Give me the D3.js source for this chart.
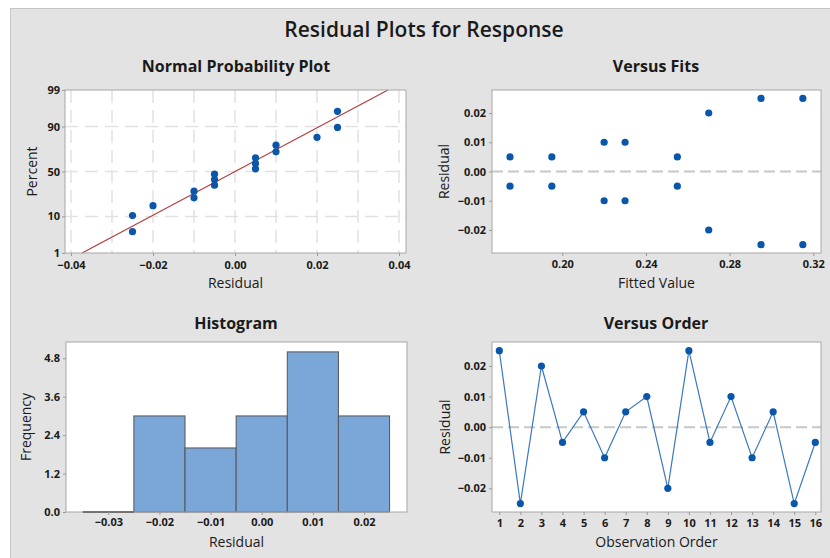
<!DOCTYPE html>
<html><head><meta charset="utf-8">
<script src="https://cdn.jsdelivr.net/npm/d3@7"></script>
<style>
body{margin:0;background:#fff}
text{font-family:"Open Sans",sans-serif;fill:#1a1a1a}
</style>
</head><body><svg id="c" width="830" height="558"></svg>
<script>
// ---------- data ----------
const observationOrder = [1,2,3,4,5,6,7,8,9,10,11,12,13,14,15,16];
const residualsByOrder = [0.025,-0.025,0.02,-0.005,0.005,-0.01,0.005,0.01,-0.02,0.025,-0.005,0.01,-0.01,0.005,-0.025,-0.005];
const sortedResiduals = [-0.025,-0.025,-0.02,-0.01,-0.01,-0.005,-0.005,-0.005,0.005,0.005,0.005,0.01,0.01,0.02,0.025,0.025];
const normalPercent = [4.3,10.4,16.5,22.6,28.7,34.8,40.9,47.0,53.0,59.1,65.2,71.3,77.4,83.5,89.6,95.7];
const fitLineResidual = [-0.0373, 0.0373];
const fitLinePercent = [1, 99];
const fittedValues = [0.175,0.175,0.195,0.195,0.22,0.22,0.23,0.23,0.255,0.255,0.27,0.27,0.295,0.295,0.315,0.315];
const fitsResiduals = [0.005,-0.005,0.005,-0.005,0.01,-0.01,0.01,-0.01,0.005,-0.005,0.02,-0.02,0.025,-0.025,0.025,-0.025];
const histBinCenters = [-0.03,-0.02,-0.01,0.00,0.01,0.02];
const histFrequency = [0,3,2,3,5,3];
const normXTicks = [-0.04,-0.02,0.00,0.02,0.04];
const normXGrid = [-0.04,-0.03,-0.02,-0.01,0,0.01,0.02,0.03,0.04];
const normYTicks = [1,10,50,90,99];
const fitsXTicks = [0.20,0.24,0.28,0.32];
const resYTicks = [-0.02,-0.01,0.00,0.01,0.02];
const histXTicks = [-0.03,-0.02,-0.01,0.00,0.01,0.02];
const histYTicks = [0.0,1.2,2.4,3.6,4.8];

// ---------- helpers ----------
function invNorm(p){
  const a=[-3.969683028665376e+01,2.209460984245205e+02,-2.759285104469687e+02,1.383577518672690e+02,-3.066479806614716e+01,2.506628277459239e+00];
  const b=[-5.447609879822406e+01,1.615858368580409e+02,-1.556989798598866e+02,6.680131188771972e+01,-1.328068155288572e+01];
  const c=[-7.784894002430293e-03,-3.223964580411365e-01,-2.400758277161838e+00,-2.549732539343734e+00,4.374664141464968e+00,2.938163982698783e+00];
  const d=[7.784695709041462e-03,3.224671290700398e-01,2.445134137142996e+00,3.754408661907416e+00];
  const pl=0.02425;let q,r;
  if(p<pl){q=Math.sqrt(-2*Math.log(p));return (((((c[0]*q+c[1])*q+c[2])*q+c[3])*q+c[4])*q+c[5])/((((d[0]*q+d[1])*q+d[2])*q+d[3])*q+1);}
  if(p<=1-pl){q=p-0.5;r=q*q;return (((((a[0]*r+a[1])*r+a[2])*r+a[3])*r+a[4])*r+a[5])*q/(((((b[0]*r+b[1])*r+b[2])*r+b[3])*r+b[4])*r+1);}
  q=Math.sqrt(-2*Math.log(1-p));return -(((((c[0]*q+c[1])*q+c[2])*q+c[3])*q+c[4])*q+c[5])/((((d[0]*q+d[1])*q+d[2])*q+d[3])*q+1);
}
const svg = d3.select("#c");
const DOT = "#0a56a8";

svg.append("rect").attr("x",10.5).attr("y",8.5).attr("width",830).attr("height",560)
  .attr("fill","#e3e3e3").attr("stroke","#c6c6c6");

svg.append("text").attr("x",424).attr("y",37).attr("text-anchor","middle")
  .attr("font-size",21).attr("font-weight",600).text("Residual Plots for Response");

function styleAxis(g){
  g.select(".domain").remove();
  g.selectAll(".tick line").attr("stroke","#9a9a9a");
  g.selectAll(".tick text").attr("font-size",11).attr("font-weight",700)
    .attr("fill","#222").style("font-family",'"Open Sans",sans-serif');
}
function panel(o){
  const g = svg.append("g");
  g.append("rect").attr("x",o.x0).attr("y",o.y0).attr("width",o.x1-o.x0).attr("height",o.y1-o.y0).attr("fill","#fff");
  g.append("text").attr("x",o.tx).attr("y",o.ty).attr("text-anchor","middle")
    .attr("font-size",16).attr("font-weight",700).text(o.title);
  g.append("text").attr("x",(o.x0+o.x1)/2).attr("y",o.xly).attr("text-anchor","middle")
    .attr("font-size",14).attr("font-weight",500).text(o.xlab);
  g.append("text").attr("transform",`translate(${o.ylx},${(o.y0+o.y1)/2}) rotate(-90)`).attr("text-anchor","middle")
    .attr("font-size",14).attr("font-weight",500).text(o.ylab);
  return g;
}
function frame(g,o){
  g.append("rect").attr("x",o.x0).attr("y",o.y0).attr("width",o.x1-o.x0).attr("height",o.y1-o.y0)
    .attr("fill","none").attr("stroke","#a8a8a8").attr("stroke-width",1);
}

// ---------- Normal probability plot ----------
{
  const o={x0:65,x1:406,y0:90,y1:253,tx:236,ty:72,title:"Normal Probability Plot",xlab:"Residual",xly:288,ylab:"Percent",ylx:37};
  const g=panel(o);
  const x=d3.scaleLinear().domain([-0.04,0.04]).range([71,399]);
  const zy=d3.scaleLinear().domain([invNorm(0.01),invNorm(0.99)]).range([o.y1,o.y0]);
  const y=p=>zy(invNorm(p/100));
  g.selectAll(".vg").data(normXGrid).join("line").attr("x1",d=>x(d)).attr("x2",d=>x(d)).attr("y1",o.y0).attr("y2",o.y1)
    .attr("stroke","#e2e2e2").attr("stroke-width",1.5).attr("stroke-dasharray","13,7");
  g.selectAll(".hg").data(normYTicks.slice(1,-1)).join("line").attr("y1",d=>y(d)).attr("y2",d=>y(d)).attr("x1",o.x0).attr("x2",o.x1)
    .attr("stroke","#e2e2e2").attr("stroke-width",1.5).attr("stroke-dasharray","13,7");
  g.append("line").attr("x1",x(fitLineResidual[0])).attr("y1",y(fitLinePercent[0]))
    .attr("x2",x(fitLineResidual[1])).attr("y2",y(fitLinePercent[1])).attr("stroke","#b23a3c").attr("stroke-width",1.1);
  g.selectAll(".pt").data(sortedResiduals).join("circle").attr("cx",d=>x(d)).attr("cy",(d,i)=>y(normalPercent[i]))
    .attr("r",3.6).attr("fill",DOT);
  frame(g,o);
  const ax=g.append("g").attr("transform",`translate(0,${o.y1})`)
    .call(d3.axisBottom(x).tickValues(normXTicks).tickFormat(d3.format(".2f")).tickSize(3).tickSizeOuter(0).tickPadding(5));
  styleAxis(ax);
  const ay=g.append("g").attr("transform",`translate(${o.x0},0)`)
    .call(d3.axisLeft(zy).tickValues(normYTicks.map(p=>invNorm(p/100))).tickFormat((d,i)=>normYTicks[i]).tickSize(3).tickSizeOuter(0).tickPadding(2));
  styleAxis(ay);
}

// ---------- Versus Fits ----------
{
  const o={x0:492,x1:821,y0:90,y1:253,tx:656,ty:72,title:"Versus Fits",xlab:"Fitted Value",xly:288,ylab:"Residual",ylx:449};
  const g=panel(o);
  const x=d3.scaleLinear().domain([0.20,0.32]).range([562.3,813.3]);
  const y=d3.scaleLinear().domain([-0.02,0.02]).range([230,113]);
  g.append("line").attr("x1",o.x0).attr("x2",o.x1).attr("y1",y(0)).attr("y2",y(0))
    .attr("stroke","#c8c8c8").attr("stroke-width",2).attr("stroke-dasharray","11,5");
  g.selectAll(".pt").data(fittedValues).join("circle").attr("cx",d=>x(d)).attr("cy",(d,i)=>y(fitsResiduals[i]))
    .attr("r",3.6).attr("fill",DOT);
  frame(g,o);
  const ax=g.append("g").attr("transform",`translate(0,${o.y1})`)
    .call(d3.axisBottom(x).tickValues(fitsXTicks).tickFormat(d3.format(".2f")).tickSize(3).tickSizeOuter(0).tickPadding(4));
  styleAxis(ax);
  const ay=g.append("g").attr("transform",`translate(${o.x0},0)`)
    .call(d3.axisLeft(y).tickValues(resYTicks).tickFormat(d3.format(".2f")).tickSize(3).tickSizeOuter(0).tickPadding(3));
  styleAxis(ay);
}

// ---------- Histogram ----------
{
  const o={x0:66,x1:407,y0:342,y1:512,tx:236,ty:329,title:"Histogram",xlab:"Residual",xly:547,ylab:"Frequency",ylx:31};
  const g=panel(o);
  const x=d3.scaleLinear().domain([-0.03,0.02]).range([108.3,364]);
  const y=d3.scaleLinear().domain([0,4.8]).range([o.y1,358.3]);
  const w=x(0.01)-x(0);
  g.selectAll(".bar").data(histFrequency).join("rect")
    .attr("x",(d,i)=>x(histBinCenters[i])-w/2).attr("width",w)
    .attr("y",d=>y(d)).attr("height",d=>o.y1-y(d))
    .attr("fill","#7ba6d8").attr("stroke","#555").attr("stroke-width",1);
  frame(g,o);
  g.selectAll(".zero").data(histFrequency.map((f,i)=>({f,c:histBinCenters[i]})).filter(d=>d.f===0)).join("line")
    .attr("x1",d=>x(d.c)-w/2).attr("x2",d=>x(d.c)+w/2).attr("y1",o.y1).attr("y2",o.y1)
    .attr("stroke","#555").attr("stroke-width",1.5);
  const ax=g.append("g").attr("transform",`translate(0,${o.y1})`)
    .call(d3.axisBottom(x).tickValues(histXTicks).tickFormat(d3.format(".2f")).tickSize(3).tickSizeOuter(0).tickPadding(3));
  styleAxis(ax);
  const ay=g.append("g").attr("transform",`translate(${o.x0},0)`)
    .call(d3.axisLeft(y).tickValues(histYTicks).tickFormat(d3.format(".1f")).tickSize(3).tickSizeOuter(0).tickPadding(3));
  styleAxis(ay);
}

// ---------- Versus Order ----------
{
  const o={x0:492,x1:821,y0:342,y1:512,tx:656,ty:329,title:"Versus Order",xlab:"Observation Order",xly:547,ylab:"Residual",ylx:450};
  const g=panel(o);
  const x=d3.scaleLinear().domain([1,16]).range([499.3,815.3]);
  const y=d3.scaleLinear().domain([-0.02,0.02]).range([488.3,366]);
  g.append("line").attr("x1",o.x0).attr("x2",o.x1).attr("y1",y(0)).attr("y2",y(0))
    .attr("stroke","#c8c8c8").attr("stroke-width",2).attr("stroke-dasharray","11,5");
  const line=d3.line().x((d,i)=>x(observationOrder[i])).y(d=>y(d));
  g.append("path").attr("d",line(residualsByOrder)).attr("fill","none").attr("stroke","#3a78c2").attr("stroke-width",1.2);
  g.selectAll(".pt").data(residualsByOrder).join("circle").attr("cx",(d,i)=>x(observationOrder[i])).attr("cy",d=>y(d))
    .attr("r",3.6).attr("fill",DOT);
  frame(g,o);
  const ax=g.append("g").attr("transform",`translate(0,${o.y1})`)
    .call(d3.axisBottom(x).tickValues(observationOrder).tickFormat(d3.format("d")).tickSize(3).tickSizeOuter(0).tickPadding(4));
  styleAxis(ax);
  const ay=g.append("g").attr("transform",`translate(${o.x0},0)`)
    .call(d3.axisLeft(y).tickValues(resYTicks).tickFormat(d3.format(".2f")).tickSize(3).tickSizeOuter(0).tickPadding(3));
  styleAxis(ay);
}
</script></body></html>
